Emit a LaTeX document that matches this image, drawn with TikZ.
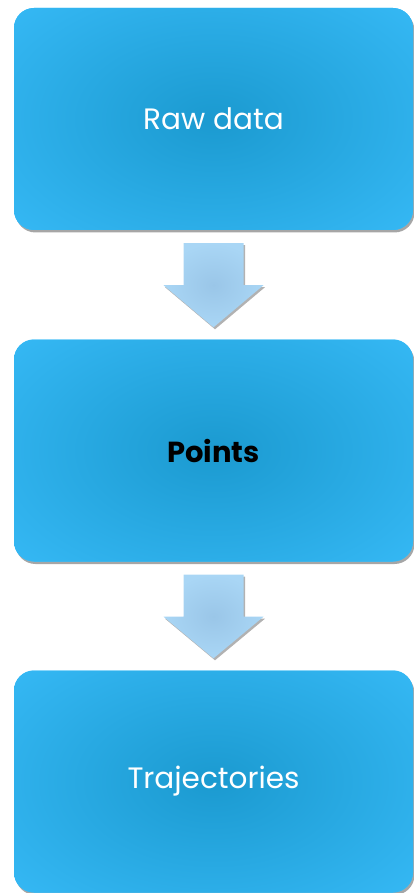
\documentclass[tikz,border=0pt]{standalone}
\usepackage{fontspec}
\setmainfont{Poppins}
\usetikzlibrary{shadows}
\definecolor{boxedge}{HTML}{3DC1FF}
\definecolor{boxmid}{HTML}{1B9AD0}
\definecolor{arrlight}{HTML}{A9D6F5}
\definecolor{arrdark}{HTML}{9AC6E8}
\tikzset{
  stepbox/.style={rounded corners=20pt, minimum width=399pt, minimum height=222pt,
    inner sep=0pt, text=white, fill=boxedge, font=\fontsize{29.5}{34}\selectfont,
    drop shadow={shadow xshift=1.5pt, shadow yshift=-2.5pt, opacity=0.35, fill=black},
    path picture={\shade[inner color=boxmid, outer color=boxedge]
      (path picture bounding box.center) ellipse [x radius=350pt, y radius=215pt];}},
  blockarrow/.style={inner color=arrdark, outer color=arrlight,
    drop shadow={shadow xshift=1.5pt, shadow yshift=-2pt, opacity=0.3, fill=black}}
}
\begin{document}
\begin{tikzpicture}[x=1pt,y=-1pt]
\useasboundingbox (0,0) rectangle (414,893);
\node[stepbox] (a) at (213.5,119) {Raw data};
\node[stepbox, text=black, font=\fontsize{29}{34}\selectfont\bfseries] (b) at (213.5,450.5) {Points};
\node[stepbox] (c) at (213.5,781.5) {Trajectories};
\foreach \s/\t in {a/b, b/c}{
  \shade[blockarrow] ([xshift=-30pt,yshift=-13pt]\s.south) -- ([xshift=30pt,yshift=-13pt]\s.south)
    -- ([xshift=30pt,yshift=-55pt]\s.south) -- ([xshift=50pt,yshift=-55pt]\s.south)
    -- ([yshift=12pt]\t.north) -- ([xshift=-50pt,yshift=-55pt]\s.south)
    -- ([xshift=-30pt,yshift=-55pt]\s.south) -- cycle;
}
\end{tikzpicture}
\end{document}
